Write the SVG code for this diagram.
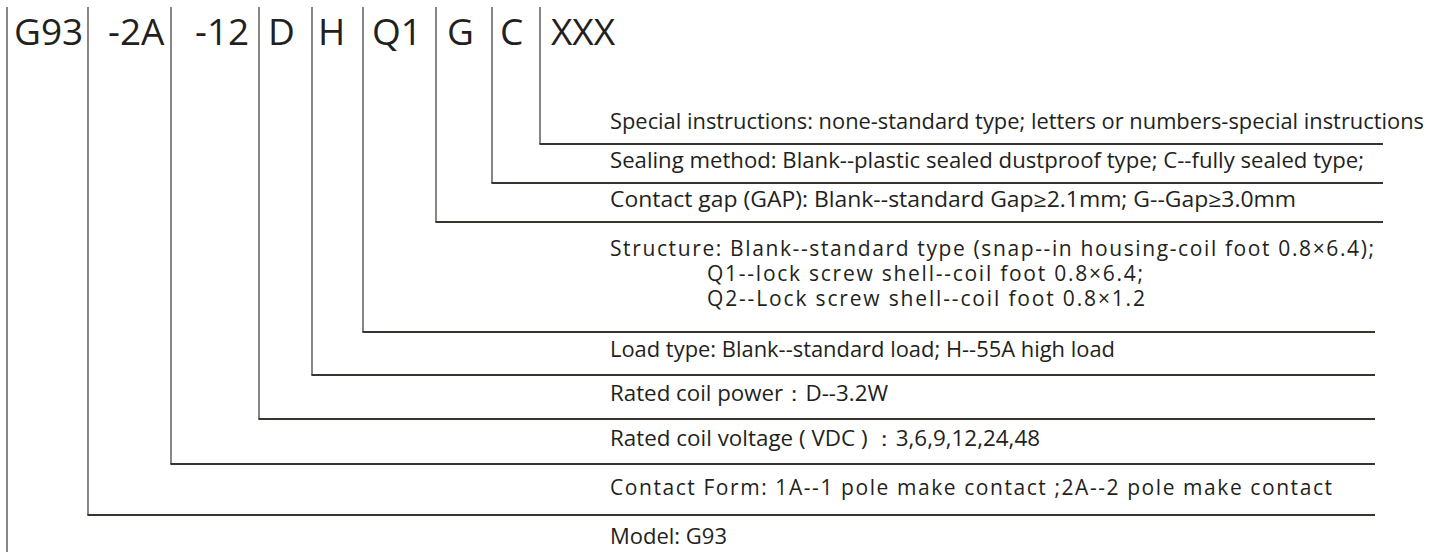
<svg xmlns="http://www.w3.org/2000/svg" width="1443" height="557" viewBox="0 0 1443 557">
<style>
.code{font-family:"Open Sans","Noto Sans",sans-serif;font-size:37px;fill:#231f20}
.desc{font-family:"Open Sans","Noto Sans",sans-serif;font-size:21px;fill:#231f20}
.v{stroke:#3a3431;stroke-width:1.2;fill:none}
.h{stroke:#3a3431;stroke-width:1.8;fill:none}
</style>
<rect width="1443" height="557" fill="#ffffff"/>
<g id="connectors">
<g class="v">
<path d="M7,7 V552"/>
<path d="M88,7 V515"/>
<path d="M171,7 V464"/>
<path d="M259,7 V419"/>
<path d="M312,7 V375"/>
<path d="M363,7 V332"/>
<path d="M436,7 V222"/>
<path d="M492,7 V183"/>
<path d="M540,7 V144"/>
</g>
<g class="h">
<path d="M87.4,515 H1375"/>
<path d="M170.4,464 H1375"/>
<path d="M258.4,419 H1375"/>
<path d="M311.4,375 H1375"/>
<path d="M362.4,332 H1375"/>
<path d="M435.4,222 H1383"/>
<path d="M491.4,183 H1383"/>
<path d="M539.4,144 H1383"/>
</g>
</g>
<g id="code-G93"><text class="code" x="14" y="45">G93</text></g>
<g id="code-2A"><text class="code" x="108" y="45">-2A</text></g>
<g id="code-12"><text class="code" x="195" y="45">-12</text></g>
<g id="code-D"><text class="code" x="268" y="45">D</text></g>
<g id="code-H"><text class="code" x="318" y="45">H</text></g>
<g id="code-Q1"><text class="code" x="372" y="45">Q1</text></g>
<g id="code-G"><text class="code" x="447" y="45">G</text></g>
<g id="code-C"><text class="code" x="500" y="45">C</text></g>
<g id="code-XXX"><text class="code" x="551" y="45">XXX</text></g>
<g id="desc-special"><text class="desc" x="610" y="129" textLength="814" lengthAdjust="spacingAndGlyphs">Special instructions: none-standard type; letters or numbers-special instructions</text></g>
<g id="desc-sealing"><text class="desc" x="610" y="168" textLength="754" lengthAdjust="spacingAndGlyphs">Sealing method: Blank--plastic sealed dustproof type; C--fully sealed type;</text></g>
<g id="desc-gap"><text class="desc" x="610" y="207" textLength="686" lengthAdjust="spacingAndGlyphs">Contact gap (GAP): Blank--standard Gap≥2.1mm; G--Gap≥3.0mm</text></g>
<g id="desc-structure">
<text class="desc" x="610" y="256" textLength="764" lengthAdjust="spacing">Structure: Blank--standard type (snap--in housing-coil foot 0.8×6.4);</text>
<text class="desc" x="707" y="281" textLength="436" lengthAdjust="spacing">Q1--lock screw shell--coil foot 0.8×6.4;</text>
<text class="desc" x="707" y="306" textLength="438" lengthAdjust="spacing">Q2--Lock screw shell--coil foot 0.8×1.2</text>
</g>
<g id="desc-load"><text class="desc" x="610" y="357" textLength="505" lengthAdjust="spacingAndGlyphs">Load type: Blank--standard load; H--55A high load</text></g>
<g id="desc-power"><text class="desc" x="610" y="401" textLength="278" lengthAdjust="spacingAndGlyphs">Rated coil power：D--3.2W</text></g>
<g id="desc-voltage"><text class="desc" x="610" y="446" textLength="430" lengthAdjust="spacingAndGlyphs">Rated coil voltage ( VDC ) ：3,6,9,12,24,48</text></g>
<g id="desc-form"><text class="desc" x="610" y="495" textLength="722" lengthAdjust="spacing">Contact Form: 1A--1 pole make contact ;2A--2 pole make contact</text></g>
<g id="desc-model"><text class="desc" x="610" y="544" textLength="117" lengthAdjust="spacingAndGlyphs">Model: G93</text></g>
</svg>
